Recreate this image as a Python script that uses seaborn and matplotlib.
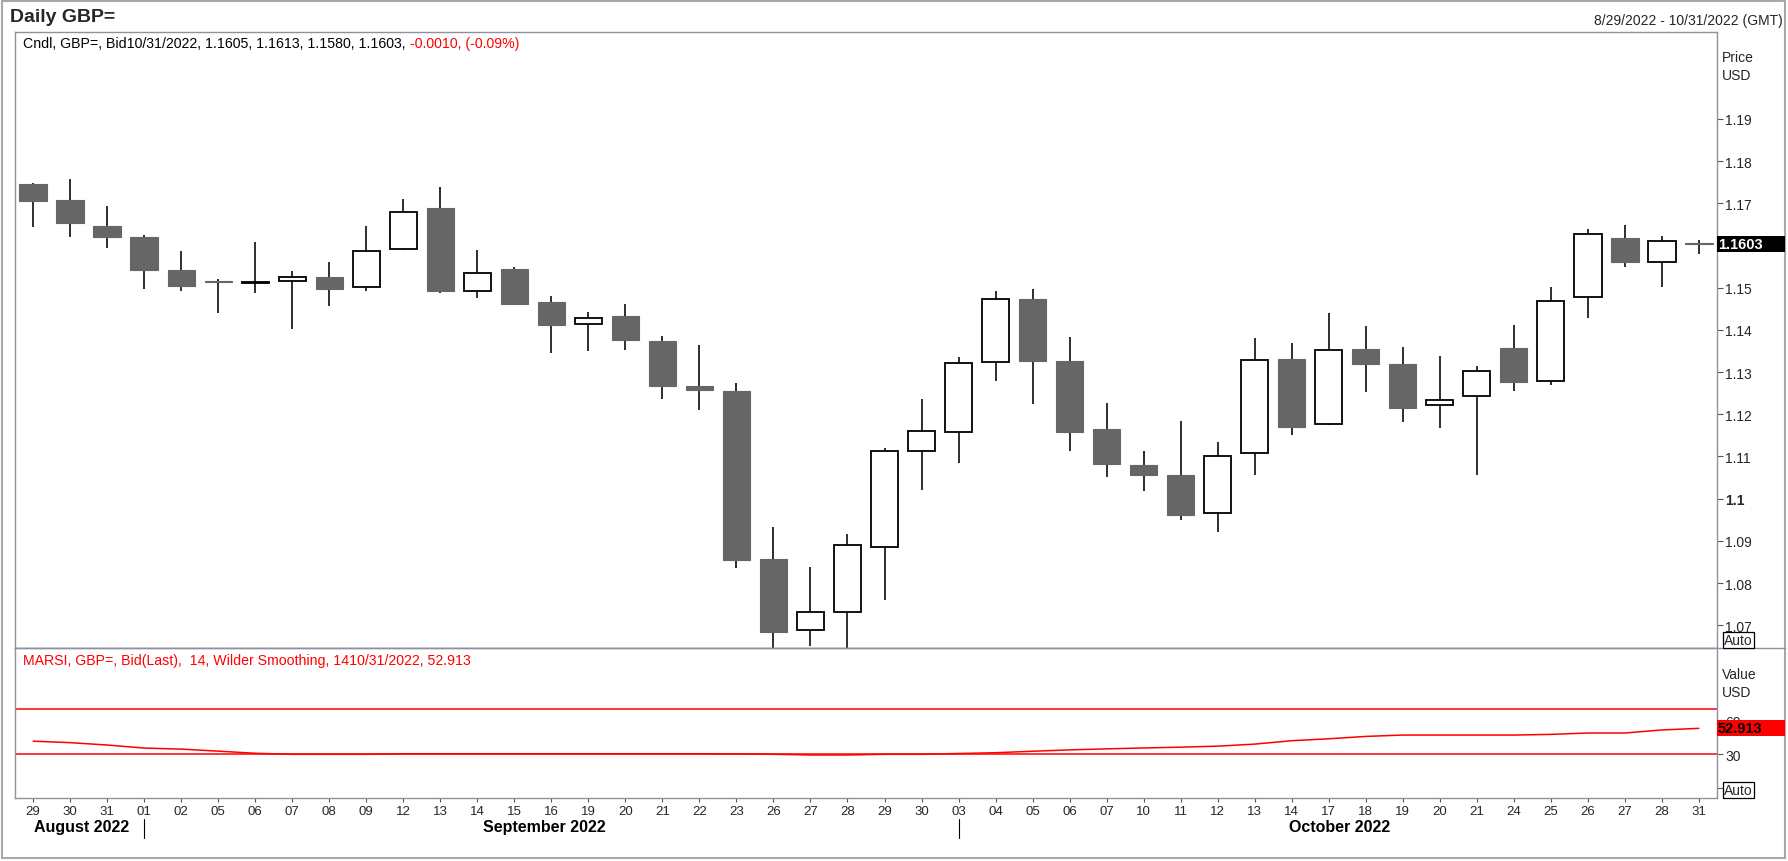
import numpy as np
import pandas as pd
import matplotlib
matplotlib.use('Agg')
import matplotlib.pyplot as plt
import matplotlib.transforms as mtransforms
from matplotlib.patches import Rectangle
from matplotlib.lines import Line2D
import seaborn as sns

# ---------------------------------------------------------------
# data (GBP= daily candles, 8/29/2022 - 10/31/2022)
dates = ['2022-08-29', '2022-08-30', '2022-08-31', '2022-09-01', '2022-09-02',
         '2022-09-05', '2022-09-06', '2022-09-07', '2022-09-08', '2022-09-09',
         '2022-09-12', '2022-09-13', '2022-09-14', '2022-09-15', '2022-09-16',
         '2022-09-19', '2022-09-20', '2022-09-21', '2022-09-22', '2022-09-23',
         '2022-09-26', '2022-09-27', '2022-09-28', '2022-09-29', '2022-09-30',
         '2022-10-03', '2022-10-04', '2022-10-05', '2022-10-06', '2022-10-07',
         '2022-10-10', '2022-10-11', '2022-10-12', '2022-10-13', '2022-10-14',
         '2022-10-17', '2022-10-18', '2022-10-19', '2022-10-20', '2022-10-21',
         '2022-10-24', '2022-10-25', '2022-10-26', '2022-10-27', '2022-10-28',
         '2022-10-31']
opens = [1.1746, 1.1708, 1.1647, 1.1620, 1.1543, 1.1515, 1.1512, 1.1517, 1.1526, 1.1502,
         1.1592, 1.1690, 1.1492, 1.1545, 1.1466, 1.1415, 1.1434, 1.1374, 1.1268, 1.1256,
         1.0857, 1.0688, 1.0732, 1.0886, 1.1114, 1.1157, 1.1323, 1.1474, 1.1327, 1.1164,
         1.1080, 1.1056, 1.0966, 1.1107, 1.1330, 1.1176, 1.1354, 1.1320, 1.1222, 1.1244,
         1.1356, 1.1278, 1.1477, 1.1617, 1.1561, 1.1605]
highs = [1.1749, 1.1758, 1.1693, 1.1624, 1.1587, 1.1521, 1.1608, 1.1540, 1.1561, 1.1646,
         1.1710, 1.1739, 1.1590, 1.1549, 1.1481, 1.1443, 1.1462, 1.1385, 1.1364, 1.1274,
         1.0933, 1.0838, 1.0916, 1.1120, 1.1235, 1.1336, 1.1491, 1.1496, 1.1384, 1.1226,
         1.1114, 1.1183, 1.1135, 1.1380, 1.1368, 1.1441, 1.1410, 1.1360, 1.1337, 1.1315,
         1.1411, 1.1501, 1.1640, 1.1648, 1.1623, 1.1613]
lows = [1.1645, 1.1619, 1.1595, 1.1496, 1.1491, 1.1441, 1.1488, 1.1403, 1.1457, 1.1493,
        1.1590, 1.1488, 1.1476, 1.1458, 1.1346, 1.1351, 1.1353, 1.1235, 1.1209, 1.0836,
        1.0350, 1.0651, 1.0540, 1.0760, 1.1021, 1.1084, 1.1279, 1.1224, 1.1112, 1.1052,
        1.1017, 1.0950, 1.0922, 1.1055, 1.1150, 1.1174, 1.1253, 1.1181, 1.1168, 1.1057,
        1.1254, 1.1269, 1.1428, 1.1548, 1.1502, 1.1580]
closes = [1.1706, 1.1654, 1.1621, 1.1541, 1.1505, 1.1513, 1.1514, 1.1525, 1.1498, 1.1586,
          1.1679, 1.1491, 1.1534, 1.1462, 1.1411, 1.1427, 1.1377, 1.1266, 1.1257, 1.0855,
          1.0683, 1.0731, 1.0889, 1.1114, 1.1160, 1.1321, 1.1473, 1.1326, 1.1157, 1.1083,
          1.1055, 1.0962, 1.1102, 1.1328, 1.1169, 1.1352, 1.1319, 1.1214, 1.1234, 1.1303,
          1.1276, 1.1468, 1.1627, 1.1562, 1.1610, 1.1603]
# MARSI 14, Wilder smoothing
rsi = [41.6, 40.3, 38.2, 35.5, 34.6, 32.8, 30.9, 30.0, 30.0, 30.0,
       30.5, 30.5, 30.5, 30.5, 30.5, 30.5, 30.5, 30.5, 30.5, 30.4,
       30.0, 29.4, 29.4, 30.0, 30.0, 30.7, 31.4, 32.7, 33.9, 34.8,
       35.6, 36.3, 37.2, 39.0, 42.0, 43.7, 45.8, 47.0, 47.0, 47.0,
       47.0, 47.6, 48.8, 48.8, 51.5, 52.913]
rsi_levels = [70, 30]
price_ticks = [1.07, 1.08, 1.09, 1.10, 1.11, 1.12, 1.13, 1.14, 1.15, 1.16, 1.17, 1.18, 1.19]

df = pd.DataFrame({'date': pd.to_datetime(dates), 'open': opens, 'high': highs,
                   'low': lows, 'close': closes, 'rsi': rsi})
df['i'] = np.arange(len(df))
df['up'] = df['close'] >= df['open']
df['body_lo'] = df[['open', 'close']].min(axis=1)
df['body_h'] = (df['close'] - df['open']).abs()
df['day'] = df['date'].dt.strftime('%d')
df['month'] = df['date'].dt.strftime('%B %Y')

# ---------------------------------------------------------------
sns.set_theme(style='white')
plt.rcParams['font.family'] = ['Liberation Sans', 'DejaVu Sans']

W, H = 1788, 862
fig = plt.figure(figsize=(W / 100, H / 100), dpi=100)
fig.patch.set_facecolor('white')


def box(l, t, r, b):
    return [l / W, 1 - b / H, (r - l) / W, (b - t) / H]


ax = fig.add_axes(box(15, 33, 1717, 649))
ax2 = fig.add_axes(box(15, 649, 1717, 799), sharex=ax)
frame_col = '#9090a0'
dark = '#666666'

# candles
ax.vlines(df['i'], df['low'], df['high'], color='black', lw=1.15, zorder=1)
up = df[df['up']]
dn = df[~df['up']]
ax.bar(up['i'], up['body_h'], bottom=up['body_lo'], width=0.74, facecolor='white',
       edgecolor='black', lw=1.3, zorder=2)
ax.bar(dn['i'], dn['body_h'], bottom=dn['body_lo'], width=0.74, facecolor=dark,
       edgecolor=dark, lw=0.8, zorder=2)

last = df.iloc[-1]
ax.set_xlim(-0.49, len(df) - 1 + 0.49)
ax.set_ylim(1.0646, 1.2106)
ax.yaxis.tick_right()
ax.set_yticks(price_ticks)
# the tick under the last-price box carries no label (it is covered in the chart)
ax.set_yticklabels(['' if abs(t - last['close']) < 0.004 else '{:g}'.format(round(t, 2))
                    for t in price_ticks])
for lab in ax.get_yticklabels():
    if lab.get_text() == '1.1':
        lab.set_fontweight('bold')
ax.tick_params(axis='y', direction='out', length=4, width=0.8, color='#555555',
               pad=2, labelsize=10, right=True, left=False)
ax.tick_params(axis='x', bottom=False, labelbottom=False)
ax.set_xlabel('')
ax.set_ylabel('')

# MARSI panel
for lvl in rsi_levels:
    ax2.axhline(lvl, color='red', lw=1.1, zorder=1)
sns.lineplot(x=df['i'], y=df['rsi'], ax=ax2, color='red', lw=1.1, legend=False, zorder=2)
ax2.set_ylim(-8.6, 123.9)
ax2.yaxis.tick_right()
ax2.set_yticks([0, 30, 60])
ax2.set_yticklabels(['', '30', '60'])
ax2.tick_params(axis='y', direction='out', length=4, width=0.8, color='#555555',
                pad=2, labelsize=10, right=True, left=False)
ax2.set_xticks(df['i'])
ax2.set_xticklabels(df['day'])
ax2.tick_params(axis='x', direction='out', length=3, width=0.8, color='#555555',
                pad=2, labelsize=9.5, bottom=True)
ax2.set_xlabel('')
ax2.set_ylabel('')

for a in (ax, ax2):
    for s in a.spines.values():
        s.set_color(frame_col)
        s.set_linewidth(1.0)

# month labels and separators
xt = ax2.get_xaxis_transform()
for m, g in df.groupby('month', sort=False):
    ax2.text(g['i'].mean() + 0.3, -0.193, m, transform=xt, ha='center', va='center',
             fontsize=11.5, fontweight='bold', color='black')
    if g['i'].iloc[0] > 0:
        ax2.plot([g['i'].iloc[0]] * 2, [-0.14, -0.267], transform=xt, color='black',
                 lw=0.8, clip_on=False)

# ---------------------------------------------------------------
# header texts
fig.text(10 / W, 1 - 17 / H, 'Daily GBP=', fontsize=14, fontweight='bold', va='center')
fig.text(1783 / W, 1 - 21 / H, '8/29/2022 - 10/31/2022 (GMT)', fontsize=10,
         ha='right', va='center')
prev_close = last['close'] + 0.0010
chg = last['close'] - prev_close
t1 = fig.text(23 / W, 1 - 44 / H,
              'Cndl, GBP=, Bid{}, {:.4f}, {:.4f}, {:.4f}, {:.4f}, '.format(
                  last['date'].strftime('%m/%d/%Y'), last['open'], last['high'],
                  last['low'], last['close']),
              fontsize=10.2, va='center', color='black')
ax.annotate('{:.4f}, ({:.2f}%)'.format(chg, chg / prev_close * 100), xy=(1, 0.5),
            xycoords=t1, va='center', ha='left', fontsize=10.2, color='red',
            annotation_clip=False)
fig.text(23 / W, 1 - 661 / H,
         'MARSI, GBP=, Bid(Last),  14, Wilder Smoothing, 14{}, {:.3f}'.format(
             last['date'].strftime('%m/%d/%Y'), last['rsi']),
         fontsize=10.2, va='center', color='red')

# right-hand axis captions
fig.text(1722 / W, 1 - 58 / H, 'Price', fontsize=10, va='center')
fig.text(1722 / W, 1 - 76 / H, 'USD', fontsize=10, va='center')
fig.text(1722 / W, 1 - 675 / H, 'Value', fontsize=10, va='center')
fig.text(1722 / W, 1 - 693 / H, 'USD', fontsize=10, va='center')
for ypx in (641, 791):
    fig.text(1724 / W, 1 - ypx / H, 'Auto', fontsize=10, va='center',
             bbox=dict(boxstyle='square,pad=0.08', facecolor='white',
                       edgecolor='black', lw=0.9))

# last value markers
tr1 = mtransforms.blended_transform_factory(fig.transFigure, ax.transData)
fig.add_artist(Rectangle((1717 / W, last['close'] - 0.0019), 68 / W, 0.0038,
                         transform=tr1, facecolor='black', edgecolor='none', zorder=5))
fig.text(1718 / W, last['close'], '{:.4f}'.format(last['close']), transform=tr1,
         fontsize=10.5, fontweight='bold', color='white', va='center', zorder=6)
tr2 = mtransforms.blended_transform_factory(fig.transFigure, ax2.transData)
fig.add_artist(Rectangle((1717 / W, last['rsi'] - 7), 68 / W, 14,
                         transform=tr2, facecolor='red', edgecolor='none', zorder=5))
fig.text(1718 / W, last['rsi'], '{:.3f}'.format(last['rsi']), transform=tr2,
         fontsize=10.5, fontweight='bold', color='black', va='center', zorder=6)

# panel divider running under the value scale, outer frame
fig.add_artist(Line2D([15 / W, 1785 / W], [1 - 649 / H] * 2, color=frame_col, lw=1.0))
fig.add_artist(Rectangle((2 / W, 1 - 859 / H), 1783 / W, 857 / H, fill=False,
                         edgecolor='#a8a8a8', lw=1.5))

fig.savefig('out.png', dpi=100)
